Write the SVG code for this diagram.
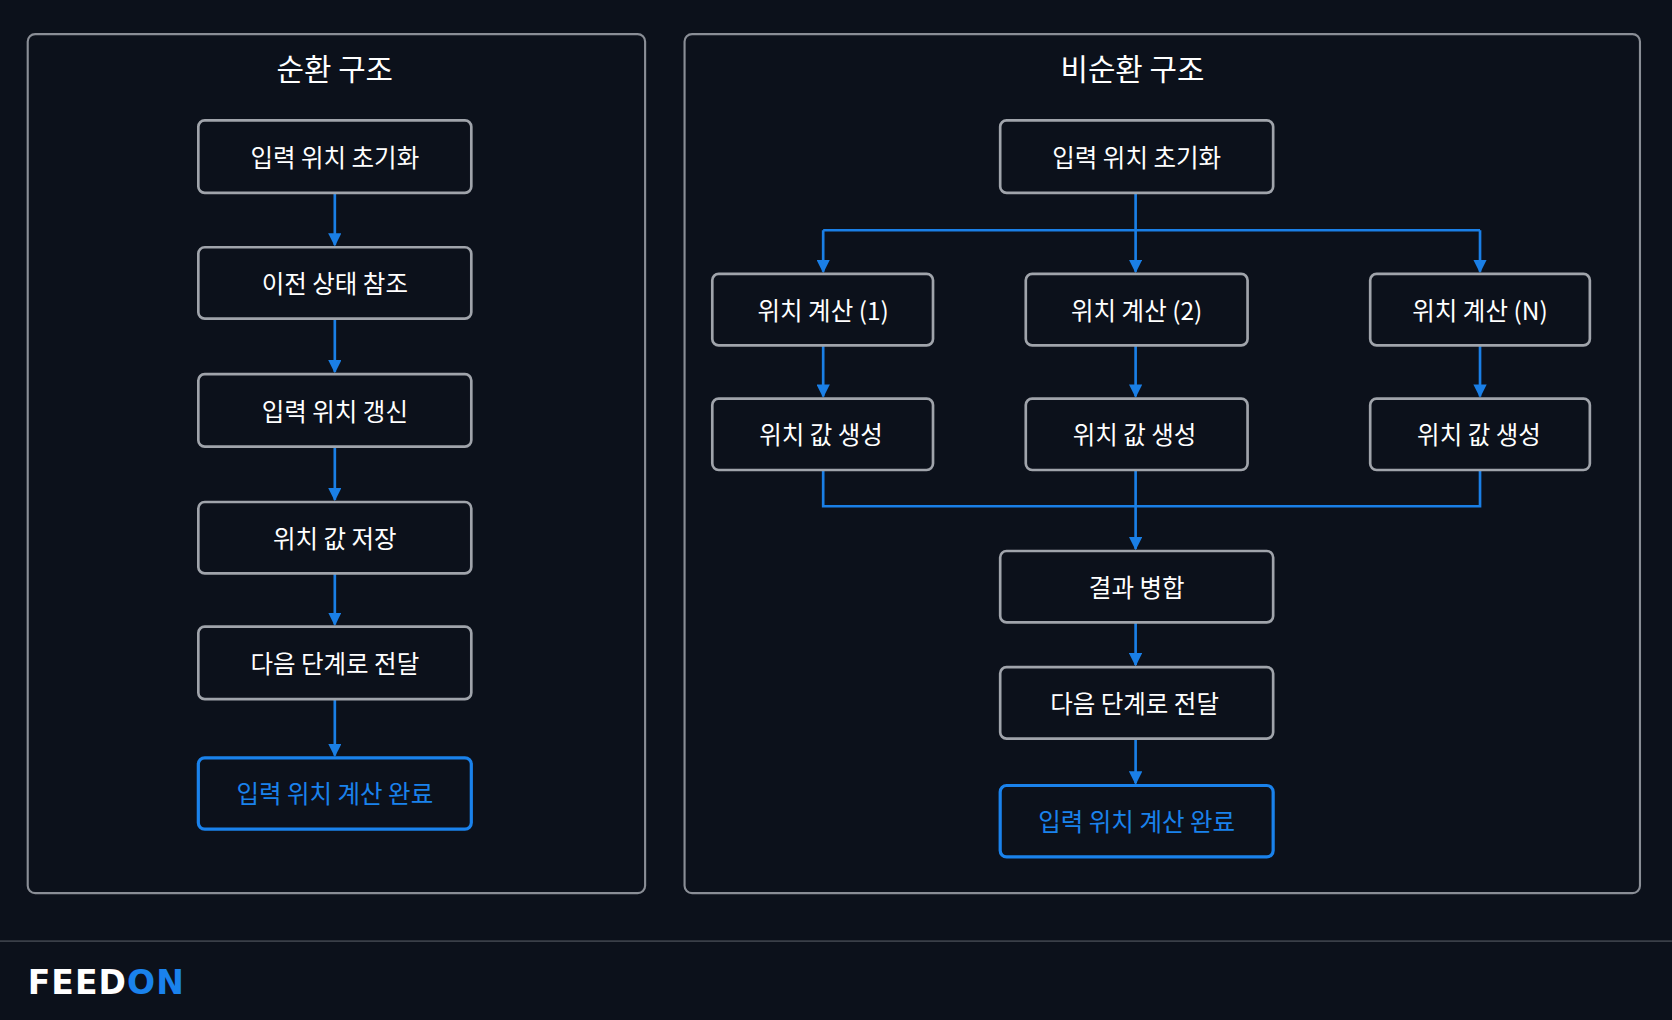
<svg xmlns="http://www.w3.org/2000/svg" width="1672" height="1020" viewBox="0 0 1672 1020">
<defs>
<style>
.panel{fill:none;stroke:#8a8e96;stroke-width:2}
.box{fill:#0c111b;stroke:#a0a4ab;stroke-width:2.5}
.fin{fill:#0c111b;stroke:#1a82ec;stroke-width:3}
.t{font-family:"Noto Sans CJK KR","Noto Sans",sans-serif;font-size:23px;fill:#ffffff;text-anchor:middle;dominant-baseline:central}
.tb{fill:#1a82ec}
.title{font-size:28px}
.c{fill:none;stroke:#1a7fe6;stroke-width:2.5;marker-end:url(#a)}
.l{fill:none;stroke:#1a7fe6;stroke-width:2.5}
</style>
<marker id="a" viewBox="0 0 10 10" refX="9" refY="5" markerWidth="5" markerHeight="5" orient="auto"><path d="M0,0 L10,5 L0,10 z" fill="#1a7fe6"/></marker>
</defs>
<rect width="1672" height="1020" fill="#0c111b"/>
<g transform="scale(1.0663,1.0658)">
<g id="panel-left"><rect class="panel" x="26" y="32" width="579" height="806" rx="7"/><text class="t title" x="314" y="63">순환 구조</text></g>
<g id="panel-right"><rect class="panel" x="642" y="32" width="896" height="806" rx="7"/><text class="t title" x="1062" y="63">비순환 구조</text></g>
<g id="connectors">
<path class="c" d="M314,181V230"/><path class="c" d="M314,299V349"/><path class="c" d="M314,419V469"/><path class="c" d="M314,538V586"/><path class="c" d="M314,656V709"/>
<path class="l" d="M772,216H1388"/><path class="c" d="M1065,181V255"/><path class="c" d="M772,216V255"/><path class="c" d="M1388,216V255"/>
<path class="c" d="M772,324V372"/><path class="c" d="M1065,324V372"/><path class="c" d="M1388,324V372"/>
<path class="l" d="M772,441V475H1388V441"/><path class="c" d="M1065,441V515"/>
<path class="c" d="M1065,584V624"/><path class="c" d="M1065,693V735"/>
</g>
<g id="l1"><rect class="box" x="186" y="113" width="256" height="68" rx="6"/><text class="t" x="314" y="147">입력 위치 초기화</text></g>
<g id="l2"><rect class="box" x="186" y="232" width="256" height="67" rx="6"/><text class="t" x="314" y="265">이전 상태 참조</text></g>
<g id="l3"><rect class="box" x="186" y="351" width="256" height="68" rx="6"/><text class="t" x="314" y="385">입력 위치 갱신</text></g>
<g id="l4"><rect class="box" x="186" y="471" width="256" height="67" rx="6"/><text class="t" x="314" y="504">위치 값 저장</text></g>
<g id="l5"><rect class="box" x="186" y="588" width="256" height="68" rx="6"/><text class="t" x="314" y="622">다음 단계로 전달</text></g>
<g id="l6"><rect class="fin" x="186" y="711" width="256" height="67" rx="6"/><text class="t tb" x="314" y="744">입력 위치 계산 완료</text></g>
<g id="r1"><rect class="box" x="938" y="113" width="256" height="68" rx="6"/><text class="t" x="1066" y="147">입력 위치 초기화</text></g>
<g id="r2a"><rect class="box" x="668" y="257" width="207" height="67" rx="6"/><text class="t" x="772" y="290">위치 계산 (1)</text></g>
<g id="r2b"><rect class="box" x="962" y="257" width="208" height="67" rx="6"/><text class="t" x="1066" y="290">위치 계산 (2)</text></g>
<g id="r2c"><rect class="box" x="1285" y="257" width="206" height="67" rx="6"/><text class="t" x="1388" y="290">위치 계산 (N)</text></g>
<g id="r3a"><rect class="box" x="668" y="374" width="207" height="67" rx="6"/><text class="t" x="770" y="407">위치 값 생성</text></g>
<g id="r3b"><rect class="box" x="962" y="374" width="208" height="67" rx="6"/><text class="t" x="1064" y="407">위치 값 생성</text></g>
<g id="r3c"><rect class="box" x="1285" y="374" width="206" height="67" rx="6"/><text class="t" x="1387" y="407">위치 값 생성</text></g>
<g id="r4"><rect class="box" x="938" y="517" width="256" height="67" rx="6"/><text class="t" x="1066" y="550">결과 병합</text></g>
<g id="r5"><rect class="box" x="938" y="626" width="256" height="67" rx="6"/><text class="t" x="1064" y="659">다음 단계로 전달</text></g>
<g id="r6"><rect class="fin" x="938" y="737" width="256" height="67" rx="6"/><text class="t tb" x="1066" y="770">입력 위치 계산 완료</text></g>
<path d="M0,883H1568" stroke="#3a3f48" stroke-width="1.5"/>
<text x="26" y="933" font-family="'DejaVu Sans',sans-serif" font-weight="bold" font-size="31" fill="#ffffff" letter-spacing="1">FEED<tspan fill="#1a82ec">ON</tspan></text>
</g>
</svg>
